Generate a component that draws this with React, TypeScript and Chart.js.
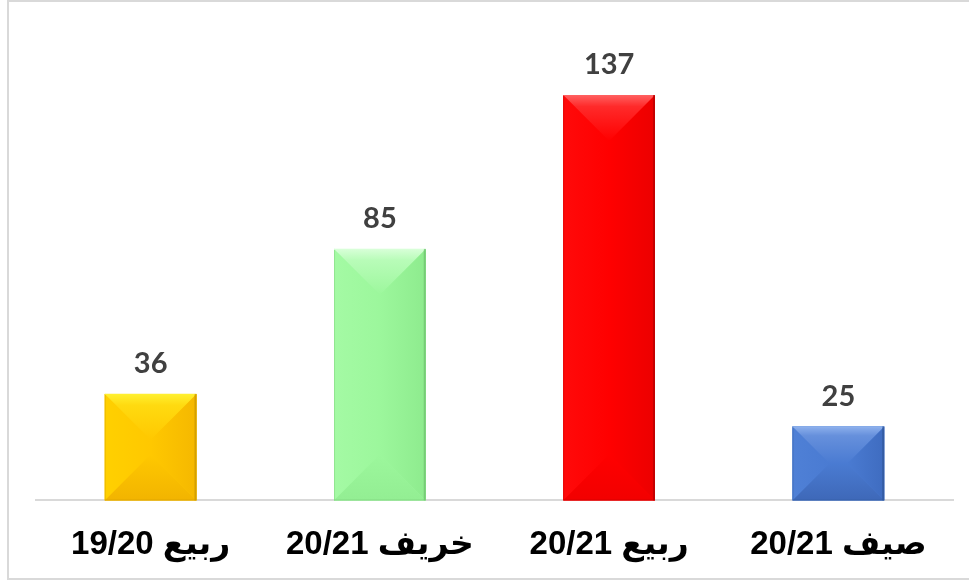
import React, { useEffect, useRef } from "react";
import { Chart, registerables } from "chart.js";

Chart.register(...registerables);

const categories = ["19/20 ربيع", "20/21 خريف", "20/21 ربيع", "20/21 صيف"];
const values = [36, 85, 137, 25];
const yMax = 160;

type Palette = { base: string; top: string; topEdge: string; left: string; right: string; bottom: string; edge: string };
const palettes: Palette[] = [
  { base: "#FFC800", top: "#FFDA10", topEdge: "#FFF030", left: "#FFD000", right: "#F5B800", bottom: "#F2B400", edge: "#C89600" },
  { base: "#9CF79C", top: "#B8FCB8", topEdge: "#D8FFD8", left: "#A4FAA4", right: "#8EEB8E", bottom: "#93EE93", edge: "#6CBF6C" },
  { base: "#FF0000", top: "#FF2A2A", topEdge: "#FF6060", left: "#FF0A0A", right: "#EC0000", bottom: "#F20000", edge: "#B40000" },
  { base: "#4A7BD2", top: "#6690DC", topEdge: "#8DB0EC", left: "#4F80D6", right: "#3F6CC0", bottom: "#3E68B8", edge: "#2F5597" },
];

const bevelPlugin = {
  id: "bevel",
  afterDatasetsDraw(chart: any) {
    const ctx: CanvasRenderingContext2D = chart.ctx;
    const meta = chart.getDatasetMeta(0);
    meta.data.forEach((el: any, i: number) => {
      const p = el.getProps(["x", "y", "base", "width"], true);
      const l = p.x - p.width / 2;
      const r = p.x + p.width / 2;
      const t = Math.min(p.y, p.base);
      const b = Math.max(p.y, p.base);
      const w = r - l;
      const h = b - t;
      const d = Math.min(w / 2, h / 2);
      const pal = palettes[i];
      const poly = (pts: number[][], fill: string | CanvasGradient) => {
        ctx.beginPath();
        ctx.moveTo(pts[0][0], pts[0][1]);
        for (let k = 1; k < pts.length; k++) ctx.lineTo(pts[k][0], pts[k][1]);
        ctx.closePath();
        ctx.fillStyle = fill;
        ctx.fill();
      };
      ctx.save();
      ctx.fillStyle = pal.base;
      ctx.fillRect(l, t, w, h);
      const lg = ctx.createLinearGradient(l, 0, l + d, 0);
      lg.addColorStop(0, pal.left);
      lg.addColorStop(1, pal.base);
      poly([[l, t], [l + d, t + d], [l + d, b - d], [l, b]], lg);
      const rg = ctx.createLinearGradient(r - d, 0, r, 0);
      rg.addColorStop(0, pal.base);
      rg.addColorStop(1, pal.right);
      poly([[r, t], [r - d, t + d], [r - d, b - d], [r, b]], rg);
      const bg = ctx.createLinearGradient(0, b - d, 0, b);
      bg.addColorStop(0, pal.base);
      bg.addColorStop(1, pal.bottom);
      poly([[l, b], [r, b], [r - d, b - d], [l + d, b - d]], bg);
      const tg = ctx.createLinearGradient(0, t, 0, t + d);
      tg.addColorStop(0, pal.topEdge);
      tg.addColorStop(0.25, pal.top);
      tg.addColorStop(1, pal.base);
      poly([[l, t], [r, t], [r - d, t + d], [l + d, t + d]], tg);
      ctx.fillStyle = pal.edge;
      ctx.globalAlpha = 0.7;
      ctx.fillRect(r - 2, t, 2, h);
      ctx.globalAlpha = 0.35;
      ctx.fillRect(l, t, 1, h);
      ctx.fillRect(l, b - 1, w, 1);
      ctx.globalAlpha = 1;
      ctx.fillStyle = pal.topEdge;
      ctx.fillRect(l, t, w - 2, 1);
      ctx.restore();

      ctx.save();
      ctx.font = "bold 29px Lato, 'Open Sans', sans-serif";
      ctx.fillStyle = "#404040";
      ctx.textAlign = "center";
      ctx.textBaseline = "middle";
      ctx.fillText(String(values[i]), p.x, t - 30);
      ctx.restore();
    });
  },
};

export default function App() {
  const canvasRef = useRef<HTMLCanvasElement | null>(null);
  useEffect(() => {
    if (!canvasRef.current) return;
    const chart = new Chart(canvasRef.current, {
      type: "bar",
      data: {
        labels: categories,
        datasets: [
          {
            data: values,
            backgroundColor: palettes.map((p) => p.base),
            borderWidth: 0,
            categoryPercentage: 1,
            barPercentage: 0.4,
          },
        ],
      },
      options: {
        animation: false,
        responsive: false,
        maintainAspectRatio: false,
        layout: { padding: { left: 36, right: 16, top: 27, bottom: 10 } },
        plugins: { legend: { display: false }, tooltip: { enabled: false } },
        scales: {
          x: {
            grid: { display: false, drawTicks: false },
            border: { display: true, color: "#d9d9d9", width: 2 },
            ticks: {
              padding: 25,
              color: "#000000",
              font: { family: "'Liberation Sans', Arial, 'DejaVu Sans', sans-serif", size: 33, weight: "bold" },
              maxRotation: 0,
              autoSkip: false,
            },
          },
          y: { display: false, min: 0, max: yMax },
        },
      },
      plugins: [bevelPlugin],
    });
    return () => chart.destroy();
  }, []);
  return (
    <div style={{ position: "fixed", left: 0, top: 0, width: 969, height: 580, background: "#ffffff", overflow: "hidden" }}>
      <canvas ref={canvasRef} width={969} height={600} style={{ position: "absolute", left: 0, top: 0 }} />
      <div
        style={{
          position: "absolute",
          left: 7,
          top: 0,
          width: 980,
          height: 576,
          borderLeft: "2px solid #d9d9d9",
          borderTop: "2px solid #d9d9d9",
          borderBottom: "2px solid #d9d9d9",
          pointerEvents: "none",
        }}
      />
    </div>
  );
}
